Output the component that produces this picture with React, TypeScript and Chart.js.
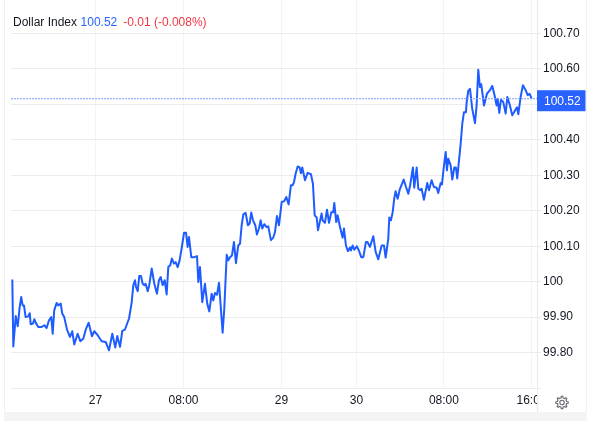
import React, { useEffect, useRef } from "react";
import { Chart, registerables } from "chart.js";

Chart.register(...registerables);

// Hours on the chart's compressed time axis, counted from the "27" tick.
const sessionHours = [
  -7.56, -7.47, -7.25, -7.07, -6.89, -6.75, -6.62, -6.5, -6.35, -6.11, -5.98, -5.89, -5.68, -5.56, -5.41, -5.2, -4.89,
  -4.65, -4.44, -4.23, -4.02, -3.89, -3.75, -3.53, -3.38, -3.16, -3.02, -2.84, -2.59, -2.32, -2.11, -1.93, -1.62, -1.38,
  -1.11, -0.86, -0.62, -0.32, -0.11, 0.2, 0.56, 0.93, 1.23, 1.53, 1.8, 1.98, 2.23, 2.44, 2.68,
  3.05, 3.29, 3.44, 3.59, 3.68, 3.84, 3.98, 4.14, 4.29, 4.44, 4.56, 4.75, 4.89, 5.11, 5.35, 5.59, 5.77, 5.93, 6.11, 6.29,
  6.47, 6.62, 6.8, 6.95, 7.14, 7.29, 7.47, 7.65, 7.84, 8.05, 8.23, 8.38, 8.5, 8.71, 8.98, 9.23, 9.35, 9.5, 9.71, 9.95,
  10.16, 10.35, 10.56, 10.71, 10.86, 11.05, 11.23, 11.38, 11.56, 11.71, 11.93, 12.08, 12.23, 12.41, 12.59,
  12.77, 12.98, 13.14, 13.29, 13.44, 13.65, 13.86, 14.02, 14.16, 14.32, 14.53, 14.68, 14.86, 15.02, 15.16, 15.35, 15.56,
  15.71, 15.95, 16.16, 16.32, 16.5, 16.68, 16.93, 17.16, 17.35, 17.56, 17.77, 17.93, 18.05, 18.2, 18.38, 18.56, 18.68,
  18.8, 19.05, 19.29, 19.59,
  19.77, 19.93, 20.11, 20.23, 20.56, 20.65, 20.86, 21.05, 21.23, 21.44, 21.62, 21.71, 21.89, 22.02, 22.23, 22.47, 22.59,
  22.77, 22.95, 23.14, 23.23, 23.38, 23.53, 23.75, 23.95, 24.16, 24.35, 24.59, 24.73, 24.95, 25.26, 25.47, 25.71, 26.02,
  26.23, 26.38, 26.62, 26.71, 26.86, 27.02,
  27.16, 27.29, 27.47, 27.68, 27.84, 28.02, 28.23, 28.44, 28.59, 28.86, 28.98, 29.2, 29.35, 29.53, 29.65, 29.86, 30.16,
  30.32, 30.56, 30.77, 31.02, 31.16, 31.38, 31.5, 31.65, 31.84, 31.95, 32.07, 32.29, 32.44, 32.62, 32.77, 32.89, 33.05,
  33.2, 33.35, 33.5, 33.68,
  33.75, 33.89, 34.05, 34.25, 34.5, 34.65, 34.8, 34.95, 35.07, 35.32, 35.59, 35.86, 36.07, 36.25, 36.47, 36.56, 36.71,
  36.86, 37.07, 37.29, 37.44, 37.68, 37.89, 38.14, 38.32, 38.44, 38.65, 38.86, 39.11, 39.29, 39.47, 39.65,
];

const indexValues = [
  100.006, 99.817, 99.903, 99.874, 99.928, 99.957, 99.933, 99.933, 99.9, 99.902, 99.911, 99.88, 99.882, 99.894, 99.883, 99.872, 99.872,
  99.877, 99.869, 99.891, 99.9, 99.853, 99.919, 99.94, 99.933, 99.938, 99.91, 99.9, 99.865, 99.844, 99.86, 99.823, 99.853, 99.832,
  99.839, 99.867, 99.884, 99.846, 99.86, 99.849, 99.832, 99.83, 99.806, 99.853, 99.814, 99.847, 99.816, 99.861, 99.865,
  99.896, 99.941, 99.99, 100.004, 99.985, 99.973, 100.016, 100.016, 99.994, 99.99, 99.994, 99.973, 99.99, 100.037, 99.994, 99.966, 100.004, 100.013, 99.99, 100.004,
  99.964, 100.041, 100.046, 100.065, 100.051, 100.055, 100.041, 100.06, 100.095, 100.138, 100.138, 100.098, 100.126, 100.069, 100.069, 100.072, 99.999, 100.041, 99.942, 99.994,
  99.938, 99.916, 99.966, 99.947, 99.968, 99.963, 99.997, 99.933, 99.856, 99.924, 100.076, 100.06, 100.069, 100.074, 100.112,
  100.052, 100.102, 100.107, 100.159, 100.19, 100.194, 100.159, 100.164, 100.195, 100.173, 100.159, 100.133, 100.15, 100.173, 100.15, 100.162, 100.154,
  100.156, 100.117, 100.124, 100.14, 100.185, 100.159, 100.225, 100.227, 100.239, 100.218, 100.272, 100.272, 100.281, 100.305, 100.325, 100.322, 100.306,
  100.322, 100.286, 100.307, 100.303,
  100.276, 100.187, 100.181, 100.145, 100.192, 100.173, 100.166, 100.203, 100.166, 100.196, 100.196, 100.222, 100.168, 100.187, 100.154, 100.124, 100.15,
  100.102, 100.086, 100.096, 100.088, 100.102, 100.09, 100.1, 100.088, 100.069, 100.069, 100.112, 100.112, 100.098, 100.128, 100.084, 100.063, 100.102,
  100.102, 100.068, 100.121, 100.181, 100.173, 100.196,
  100.234, 100.255, 100.234, 100.262, 100.274, 100.288, 100.267, 100.248, 100.269, 100.322, 100.265, 100.322, 100.262, 100.258, 100.262, 100.231, 100.278,
  100.258, 100.286, 100.267, 100.265, 100.25, 100.278, 100.274, 100.319, 100.366, 100.314, 100.347, 100.328, 100.288, 100.322, 100.322, 100.291, 100.342,
  100.389, 100.446, 100.478, 100.478,
  100.507, 100.538, 100.544, 100.488, 100.447, 100.497, 100.598, 100.549, 100.557, 100.497, 100.53, 100.54, 100.552, 100.53, 100.497, 100.516, 100.476,
  100.513, 100.507, 100.474, 100.521, 100.497, 100.469, 100.483, 100.492, 100.472, 100.521, 100.554, 100.54, 100.526, 100.53, 100.516,
];

const xTickHours = [0, 8, 16.91, 23.73, 31.68, 39.64];
const xTickLabels = ["27", "08:00", "29", "30", "08:00", "16:00"];
const yTickValues = [99.7, 99.8, 99.9, 100, 100.1, 100.2, 100.3, 100.4, 100.5, 100.6, 100.7];
const yTickLabels = ["", "99.80", "99.90", "100", "100.10", "100.20", "100.30", "100.40", "", "100.60", "100.70"];
const lastPriceLevel = 100.516;
const lastPriceLabel = "100.52";
const instrumentName = "Dollar Index";
const changeLabel = "-0.01";
const changePercentLabel = "(-0.008%)";

const X_MIN = -7.68;
const X_MAX = 40.14;
const BLUE = "#2962ff";
const TEXT = "#131722";
const FONT = "'Liberation Sans', Arial, sans-serif";

const framePlugin = {
  id: "frame",
  beforeDraw(chart: any) {
    const { ctx } = chart;
    ctx.save();
    ctx.fillStyle = "#ffffff";
    ctx.fillRect(0, 0, 600, 421);
    ctx.fillStyle = "#f1f1f1";
    ctx.fillRect(4, 0, 1, 412);
    ctx.fillRect(586, 0, 1, 421);
    ctx.fillStyle = "#f4f4f4";
    ctx.fillRect(4, 412, 583, 9);
    ctx.restore();
  },
  afterDraw(chart: any) {
    const { ctx, scales } = chart;
    const y = scales.y.getPixelForValue(lastPriceLevel);
    ctx.save();
    // hides what passes the right edge of the time axis
    ctx.fillStyle = "#ffffff";
    ctx.fillRect(537, 389, 49, 23);
    // axis line
    ctx.fillStyle = "#e9e9e9";
    ctx.fillRect(537, 0, 1, 412);
    // last price label
    ctx.fillStyle = BLUE;
    ctx.fillRect(537, y - 8.5, 48.5, 21);
    ctx.fillStyle = "#ffffff";
    ctx.font = `12px ${FONT}`;
    ctx.textAlign = "left";
    ctx.textBaseline = "middle";
    ctx.fillText(lastPriceLabel, 544, y + 2.5);
    // settings icon
    const cx = 562;
    const cy = 402.5;
    ctx.strokeStyle = "#666a70";
    ctx.lineWidth = 1.1;
    ctx.beginPath();
    const teeth = 8;
    for (let i = 0; i < teeth; i++) {
      const a = (i / teeth) * Math.PI * 2;
      const step = Math.PI / teeth;
      const pts: [number, number][] = [
        [a - step * 0.55, 4.7],
        [a - step * 0.3, 6.2],
        [a + step * 0.3, 6.2],
        [a + step * 0.55, 4.7],
      ];
      pts.forEach(([ang, r], k) => {
        const px = cx + Math.cos(ang) * r;
        const py = cy + Math.sin(ang) * r;
        if (i === 0 && k === 0) ctx.moveTo(px, py);
        else ctx.lineTo(px, py);
      });
    }
    ctx.closePath();
    ctx.stroke();
    ctx.beginPath();
    ctx.arc(cx, cy, 2.2, 0, Math.PI * 2);
    ctx.stroke();
    ctx.restore();
  },
};

const clearScalePadding = (s: any) => {
  s.paddingTop = 0;
  s.paddingBottom = 0;
  s.paddingLeft = 0;
  s.paddingRight = 0;
};

export default function App() {
  const ref = useRef<HTMLCanvasElement | null>(null);

  useEffect(() => {
    if (!ref.current) return;
    const chart = new Chart(ref.current, {
      type: "line",
      data: {
        datasets: [
          {
            label: "Last price",
            data: [
              { x: X_MIN, y: lastPriceLevel },
              { x: X_MAX, y: lastPriceLevel },
            ],
            borderColor: "#7f9dff",
            borderWidth: 1,
            borderDash: [2, 1],
            pointRadius: 0,
          },
          {
            label: instrumentName,
            data: sessionHours.map((x, i) => ({ x, y: indexValues[i] })),
            borderColor: "#1f5cff",
            borderWidth: 2,
            pointRadius: 0,
            tension: 0,
            borderJoinStyle: "round",
          },
        ],
      },
      options: {
        responsive: false,
        animation: false,
        layout: { autoPadding: false, padding: { left: 11, top: 0, right: 0, bottom: 0 } },
        plugins: { legend: { display: false }, tooltip: { enabled: false } },
        scales: {
          x: {
            type: "linear",
            min: X_MIN,
            max: X_MAX,
            afterBuildTicks: (s: any) => {
              s.ticks = xTickHours.map((value) => ({ value }));
            },
            afterFit: (s: any) => {
              s.height = 33;
              clearScalePadding(s);
            },
            grid: { color: "#f3f3f3", drawTicks: false },
            border: { display: false },
            ticks: {
              autoSkip: false,
              maxRotation: 0,
              padding: 5,
              color: TEXT,
              font: { family: FONT, size: 12 },
              callback: (_v: any, i: number) => xTickLabels[i],
            },
          },
          y: {
            type: "linear",
            position: "right",
            min: 99.7,
            max: 100.7945,
            afterBuildTicks: (s: any) => {
              s.ticks = yTickValues.map((value) => ({ value }));
            },
            afterFit: (s: any) => {
              s.width = 63;
              clearScalePadding(s);
            },
            grid: { color: "#ececec", tickLength: 4, tickColor: "#ececec" },
            border: { display: false },
            ticks: {
              padding: 2,
              color: TEXT,
              font: { family: FONT, size: 12 },
              callback: (_v: any, i: number) => yTickLabels[i],
            },
          },
        },
      },
      plugins: [framePlugin],
    } as any);
    return () => chart.destroy();
  }, []);

  return (
    <div style={{ position: "absolute", left: 0, top: 0, width: 600, height: 421 }}>
      <canvas ref={ref} width={600} height={421} style={{ display: "block", width: 600, height: 421 }} />
      <div
        style={{
          position: "absolute",
          left: 13,
          top: 15,
          font: `12px/14px ${FONT}`,
          color: TEXT,
          whiteSpace: "pre",
        }}
      >
        <span>{instrumentName}</span>
        <span style={{ color: BLUE, marginLeft: 3.5 }}>{lastPriceLabel}</span>
        <span style={{ color: "#f23645", marginLeft: 6 }}>{`${changeLabel} ${changePercentLabel}`}</span>
      </div>
    </div>
  );
}
